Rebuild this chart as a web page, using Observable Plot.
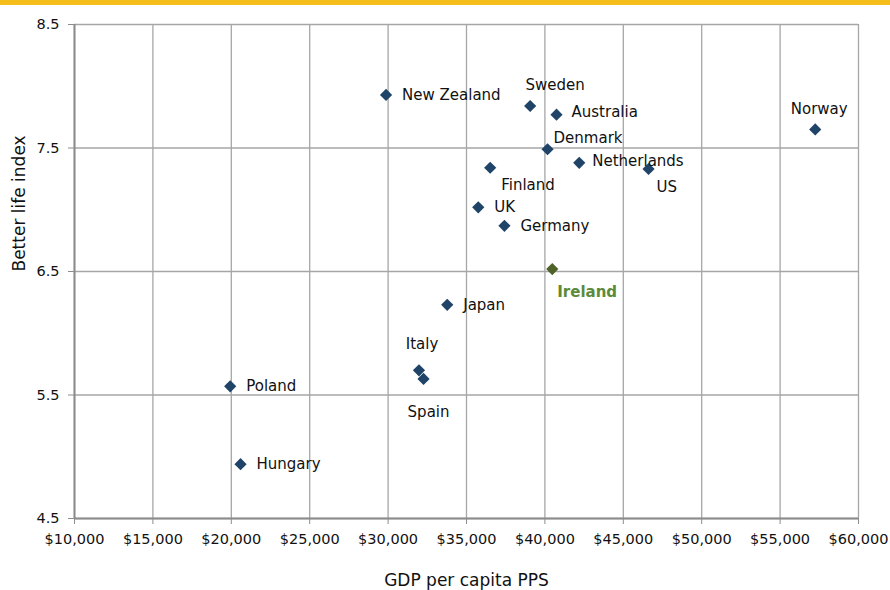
<!DOCTYPE html>
<html>
<head>
<meta charset="utf-8">
<script src="https://cdn.jsdelivr.net/npm/d3@7"></script>
<script src="https://cdn.jsdelivr.net/npm/@observablehq/plot@0.6"></script>
<style>
  html, body { margin: 0; padding: 0; background: #fff; }
  #bar { height: 5px; background: #F6BE1A; width: 890px; }
  #chart svg { display: block; }
</style>
</head>
<body>
<div id="bar"></div>
<div id="chart"></div>
<script>
// Data
const countries = ["New Zealand","Sweden","Australia","Denmark","Netherlands","US","Finland","UK","Germany","Ireland","Norway","Japan","Italy","Spain","Poland","Hungary"];
const gdpPerCapita = [29870, 39060, 40740, 40170, 42190, 46610, 36510, 35750, 37420, 40470, 57240, 33770, 31970, 32260, 19930, 20590];
const betterLifeIndex = [7.93, 7.84, 7.77, 7.49, 7.38, 7.33, 7.34, 7.02, 6.87, 6.52, 7.65, 6.23, 5.70, 5.63, 5.57, 4.94];
const xTicks = [10000, 15000, 20000, 25000, 30000, 35000, 40000, 45000, 50000, 55000, 60000];
const yTicks = [4.5, 5.5, 6.5, 7.5, 8.5];
const highlight = "Ireland";

// Label placement (styling only)
const labelPlacement = {
  "Sweden":      {anchor: "middle", dx: 25, dy: -21},
  "Denmark":     {anchor: "start", dx: 6, dy: -11},
  "Finland":     {anchor: "start", dx: 11, dy: 17},
  "US":          {anchor: "start", dx: 8, dy: 18},
  "Ireland":     {anchor: "start", dx: 5, dy: 23},
  "Norway":      {anchor: "middle", dx: 4, dy: -20},
  "Italy":       {anchor: "middle", dx: 3, dy: -26},
  "Spain":       {anchor: "middle", dx: 5, dy: 33},
  "Netherlands": {anchor: "start", dx: 13, dy: -2},
  "Australia":   {anchor: "start", dx: 15, dy: -2}
};
const defaultPlacement = {anchor: "start", dx: 16, dy: 0};

const rows = countries.map((c, i) => ({country: c, gdp: gdpPerCapita[i], bli: betterLifeIndex[i]}));
const normal = rows.filter(d => d.country !== highlight);
const special = rows.filter(d => d.country === highlight);

const fmt = d3.format(",");
const navy = "#1F4468";
const olive = "#4F6228";
const grid = "#A6A6A6";
const axisCol = "#8C8C8C";

const labelMarks = [];
for (const d of rows) {
  const p = labelPlacement[d.country] || defaultPlacement;
  const isHi = d.country === highlight;
  labelMarks.push(Plot.text([d], {
    x: "gdp", y: "bli", text: "country",
    textAnchor: p.anchor, dx: p.dx, dy: p.dy,
    fontSize: 15,
    fill: isHi ? "#5B8A3A" : "#111",
    fontWeight: isHi ? "bold" : "normal"
  }));
}

const chart = Plot.plot({
  width: 890,
  height: 585,
  marginTop: 19,
  marginBottom: 72,
  marginLeft: 74,
  marginRight: 32,
  style: {fontFamily: "DejaVu Sans, sans-serif", fontSize: "14px", color: "#111", background: "#fff"},
  x: {domain: [10000, 60000], ticks: xTicks, tickFormat: d => "$" + fmt(d)},
  y: {domain: [4.5, 8.5], ticks: yTicks, tickFormat: d => d.toFixed(1)},
  marks: [
    Plot.gridX(xTicks, {stroke: grid, strokeOpacity: 1, strokeWidth: 1.3}),
    Plot.gridY(yTicks, {stroke: grid, strokeOpacity: 1, strokeWidth: 1.3}),
    Plot.axisX(xTicks, {tickSize: 6, tickPadding: 9, stroke: axisCol, fontSize: 14.5, fill: "#111", label: null, tickFormat: d => "$" + fmt(d)}),
    Plot.axisY(yTicks, {tickSize: 6, tickPadding: 9, stroke: axisCol, fontSize: 14.5, fill: "#111", label: null, tickFormat: d => d.toFixed(1)}),
    Plot.ruleX([10000], {stroke: axisCol, strokeWidth: 2}),
    Plot.ruleY([4.5], {stroke: axisCol, strokeWidth: 2}),
    Plot.dot(normal, {x: "gdp", y: "bli", symbol: "diamond2", r: 5.5, fill: navy, stroke: "none"}),
    Plot.dot(special, {x: "gdp", y: "bli", symbol: "diamond2", r: 5.5, fill: olive, stroke: "none"}),
    ...labelMarks,
    Plot.text(["GDP per capita PPS"], {frameAnchor: "bottom", dy: 67, fontSize: 17, fill: "#111"}),
    Plot.text(["Better life index"], {frameAnchor: "left", dx: -55, rotate: -90, fontSize: 17, fill: "#111"})
  ]
});
document.getElementById("chart").appendChild(chart);
</script>
</body>
</html>
